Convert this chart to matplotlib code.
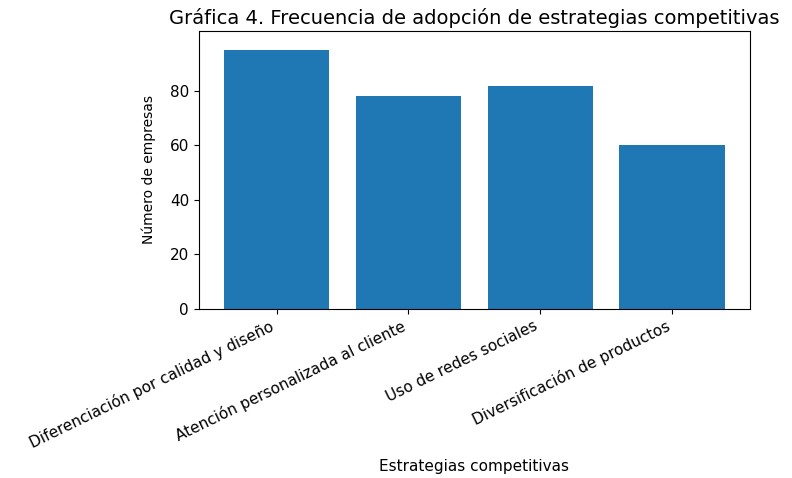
import matplotlib
matplotlib.use("Agg")
import matplotlib.pyplot as plt

categories = ["Diferenciación por calidad y diseño",
              "Atención personalizada al cliente",
              "Uso de redes sociales",
              "Diversificación de productos"]
values = [95, 78, 82, 60]

title = "Gráfica 4. Frecuencia de adopción de estrategias competitivas"
xlabel = "Estrategias competitivas"
ylabel = "Número de empresas"

fig = plt.figure(figsize=(7.92, 4.78), dpi=100)
ax = fig.add_axes([0.251, 0.354, 0.696, 0.581])
ax.bar(categories, values, color="#1f77b4")
ax.set_title(title, fontsize=14, pad=5)
ax.set_xlabel(xlabel, fontsize=11, labelpad=6)
ax.set_ylabel(ylabel, fontsize=10, labelpad=10)
ax.set_ylim(0, 102)
ax.set_yticks([0, 20, 40, 60, 80])
ax.tick_params(axis="y", labelsize=11)
ax.tick_params(axis="x", labelsize=11)
plt.setp(ax.get_xticklabels(), rotation=26, ha="right", rotation_mode="default")
fig.savefig("out.png", dpi=100)
